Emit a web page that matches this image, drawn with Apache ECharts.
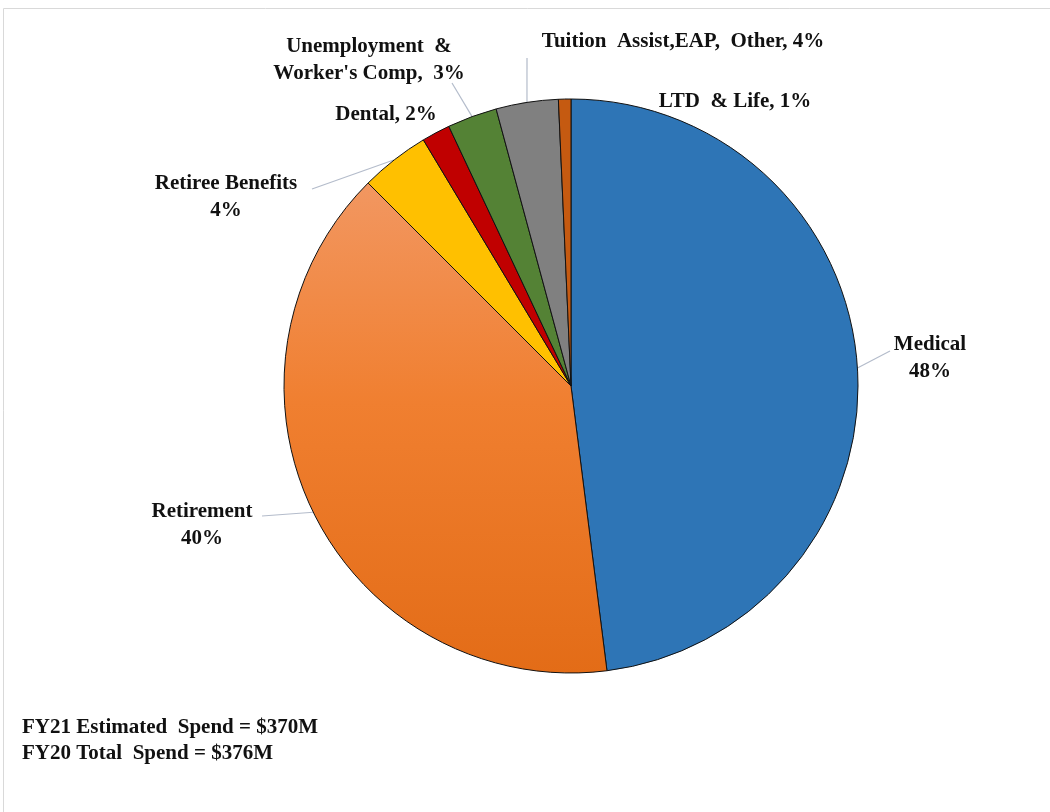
<!DOCTYPE html>
<html>
<head>
<meta charset="utf-8">
<script src="https://cdn.jsdelivr.net/npm/echarts@6/dist/echarts.min.js"></script>
<style>
html,body{margin:0;padding:0;background:#fff;}
#chart{width:1050px;height:812px;}
</style>
</head>
<body>
<div id="chart"></div>
<script>
// ---- data ----
const categories = ['Medical', 'Retirement', 'Retiree Benefits', 'Dental', "Unemployment  &\nWorker's Comp", 'Tuition  Assist,EAP,  Other', 'LTD  & Life'];
const shares = [48.0, 39.5, 3.9, 1.6, 2.8, 3.5, 0.7];          // estimated shares (%)
const shownPercents = ['48%', '40%', '4%', '2%', '3%', '4%', '1%']; // percentages printed on the chart
const labelTexts = [
  'Medical\n48%',
  'Retirement\n40%',
  'Retiree Benefits\n4%',
  'Dental, 2%',
  "Unemployment  &\nWorker's Comp,  3%",
  'Tuition  Assist,EAP,  Other, 4%',
  'LTD  & Life, 1%'
];
const footnotes = ['FY21 Estimated  Spend = $370M', 'FY20 Total  Spend = $376M'];

// ---- styling / layout ----
const colors = [
  '#2E75B6',
  {type:'linear', x:0, y:0, x2:0, y2:1, colorStops:[{offset:0, color:'#F29761'},{offset:0.45, color:'#F07F30'},{offset:1, color:'#E36C17'}]},
  '#FFC000', '#C00000', '#548235', '#808080', '#C55A11'
];
// label centre positions and leader-line end points (layout only)
const labelPos = [[930,358],[202,525],[226,197],[386,115],[369,60],[683,42],[735,102]];
const lineEnds = [[890,351],[262,516],[312,189],null,[452,83],[527,58],[650,110]];

const chart = echarts.init(document.getElementById('chart'), null, {renderer:'canvas'});

const data = shares.map((v, i) => ({
  name: categories[i],
  value: v,
  itemStyle: {color: colors[i]},
  label: {formatter: labelTexts[i]}
}));

chart.setOption({
  animation: false,
  title: {
    text: footnotes.join('\n'),
    left: 17, top: 710,
    textStyle: {fontFamily:'Liberation Serif', fontWeight:'bold', fontSize:21, color:'#111', lineHeight:26}
  },
  graphic: [{
    type:'rect', shape:{x:3.5, y:8.5, width:1100, height:900},
    style:{fill:'none', stroke:'#D9D9D9', lineWidth:1}, silent:true
  }],
  series: [{
    type: 'pie',
    center: [571, 386],
    radius: 287,
    startAngle: 90,
    clockwise: true,
    data: data,
    itemStyle: {borderColor:'#111', borderWidth:1},
    label: {
      show: true,
      position: 'outside',
      fontFamily: 'Liberation Serif',
      fontWeight: 'bold',
      fontSize: 21,
      lineHeight: 27,
      color: '#111',
      align: 'center'
    },
    labelLine: {show: true, lineStyle: {color:'#B4BCCB', width:1.2}, length: 10, length2: 10},
    labelLayout: function (params) {
      const i = params.dataIndex;
      const p = labelPos[i];
      const res = {x: p[0], y: p[1], align: 'center', verticalAlign: 'middle'};
      const start = params.labelLinePoints ? params.labelLinePoints[0] : null;
      if (lineEnds[i] && start) {
        res.labelLinePoints = [start, lineEnds[i], lineEnds[i]];
      } else {
        res.labelLinePoints = start ? [start, start, start] : undefined;
      }
      return res;
    }
  }]
});
</script>
</body>
</html>
